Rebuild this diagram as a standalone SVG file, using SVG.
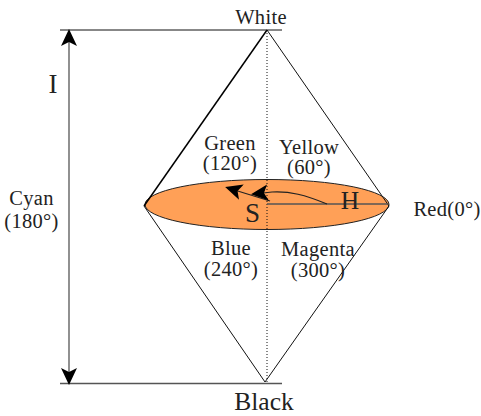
<svg xmlns="http://www.w3.org/2000/svg" width="481" height="416" viewBox="0 0 481 416">
<style>
text{font-family:"Liberation Serif","Times New Roman",serif;fill:#222;text-anchor:middle}
.s{font-size:20.500px;letter-spacing:.3px}
.l{font-size:25.500px}
.b{font-size:27px}
.e{fill:none;stroke:#111;stroke-width:1}
.g{fill:none;stroke:#555;stroke-width:1.300}
</style>
<defs>
<marker id="ah" markerUnits="userSpaceOnUse" markerWidth="20" markerHeight="20" refX="14" refY="9" orient="auto-start-reverse" viewBox="0 0 20 20"><path d="M0 1L17 9L0 17L4 9Z" fill="#000"/></marker>
</defs>
<g id="body">
<ellipse cx="267" cy="204.500" rx="122" ry="25" fill="#FFA057" stroke="#222" stroke-width="1"/>
</g>
<g id="connectors">
<path class="e" d="M60 30H282"/>
<path class="g" d="M60 383.500H282"/>
<path class="g" d="M69 32V382" marker-start="url(#ah)" marker-end="url(#ah)"/>
<path d="M267 30L144 206" fill="none" stroke="#000" stroke-width="1.500"/>
<path class="e" d="M267 30L389 206"/>
<path class="e" d="M144 206L265 382"/>
<path class="e" d="M389 206L265 382"/>
<path d="M267 30V382" fill="none" stroke="#111" stroke-width="1" stroke-dasharray="1 2"/>
<path class="g" d="M267 204H388"/>
<path d="M270 201L228 188" fill="none" stroke="#222" stroke-width="1.200" marker-end="url(#ah)"/>
<path d="M327 204C305 195 290 191 272 192L254 194" fill="none" stroke="#222" stroke-width="1.200" marker-end="url(#ah)"/>
</g>
<g id="white"><text class="s" x="261" y="24">White</text></g>
<g id="black"><text class="l" x="264" y="410">Black</text></g>
<g id="i"><text class="b" x="53" y="93">I</text></g>
<g id="cyan"><text class="s"><tspan x="31.500" y="205">Cyan</tspan><tspan x="31.500" y="228">(180°)</tspan></text></g>
<g id="green"><text class="s"><tspan x="230" y="150">Green</tspan><tspan x="230" y="170">(120°)</tspan></text></g>
<g id="yellow"><text class="s"><tspan x="309" y="154">Yellow</tspan><tspan x="309" y="174">(60°)</tspan></text></g>
<g id="blue"><text class="s"><tspan x="231" y="255">Blue</tspan><tspan x="231" y="276">(240°)</tspan></text></g>
<g id="magenta"><text class="s"><tspan x="318" y="256">Magenta</tspan><tspan x="318" y="277">(300°)</tspan></text></g>
<g id="red"><text class="s" x="447" y="216">Red(0°)</text></g>
<g id="h"><text class="l" x="350" y="209">H</text></g>
<g id="sat"><text class="b" x="252.500" y="222">S</text></g>
</svg>
